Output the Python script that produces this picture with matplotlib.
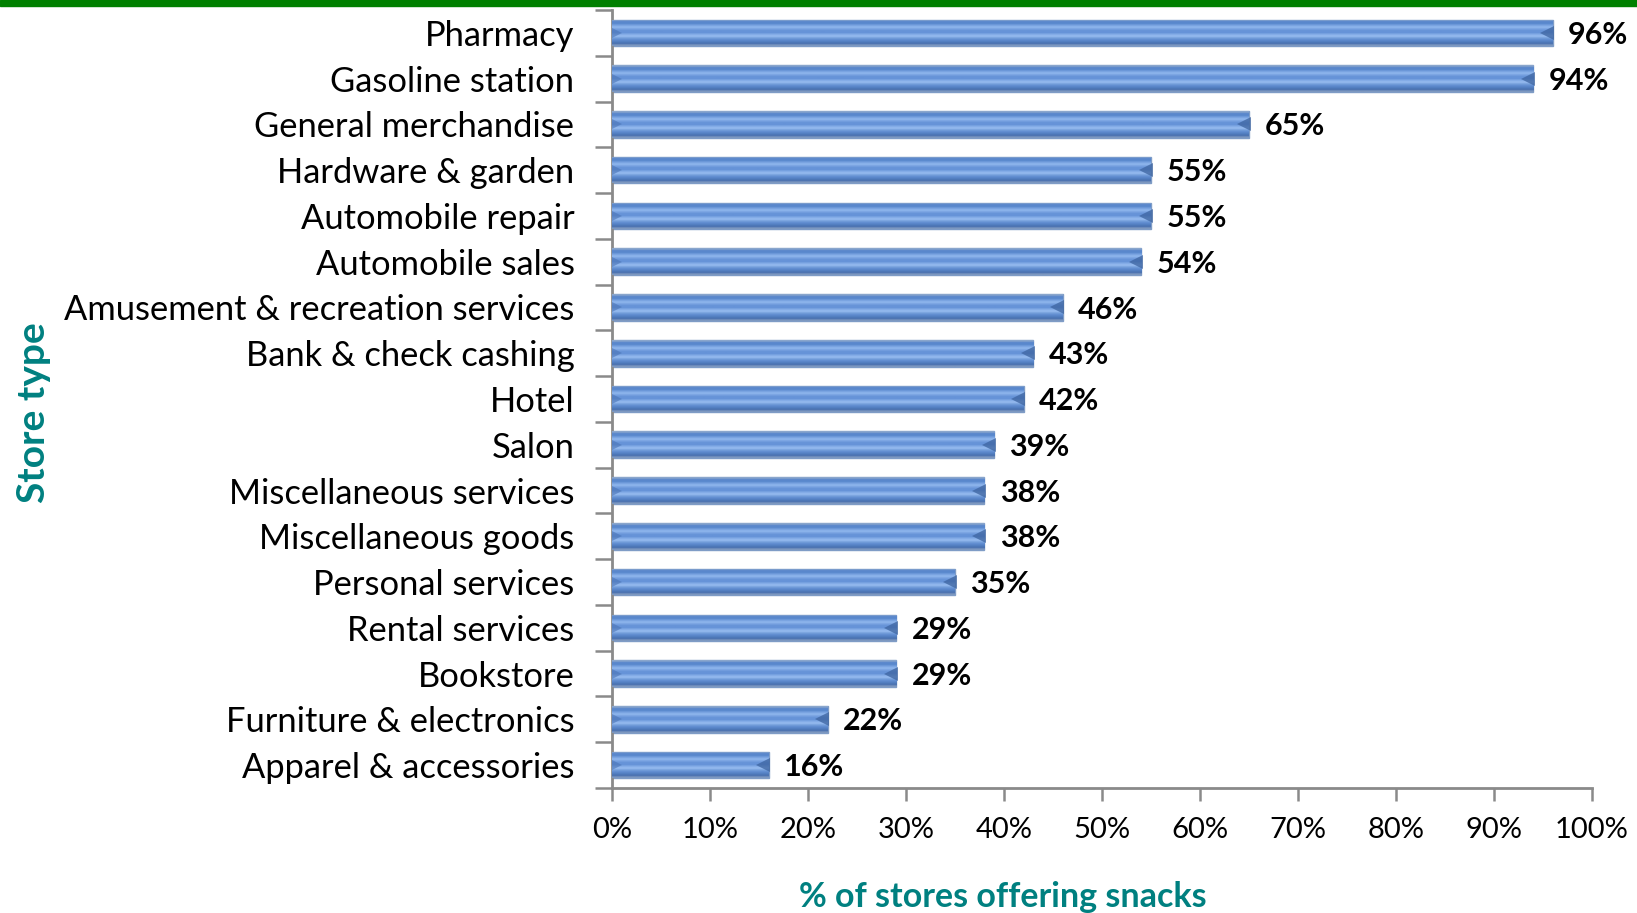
import numpy as np
import matplotlib.pyplot as plt
from matplotlib.colors import to_rgb

store_types = [
    "Pharmacy", "Gasoline station", "General merchandise", "Hardware & garden",
    "Automobile repair", "Automobile sales", "Amusement & recreation services",
    "Bank & check cashing", "Hotel", "Salon", "Miscellaneous services",
    "Miscellaneous goods", "Personal services", "Rental services", "Bookstore",
    "Furniture & electronics", "Apparel & accessories",
]
pct_offering = [96, 94, 65, 55, 55, 54, 46, 43, 42, 39, 38, 38, 35, 29, 29, 22, 16]
x_ticks = [0, 10, 20, 30, 40, 50, 60, 70, 80, 90, 100]

teal = "#008080"
axis_gray = "#8a8a8a"

plt.rcParams["font.family"] = ["Lato", "DejaVu Sans"]

fig = plt.figure(figsize=(16.37, 9.13), dpi=100)
ax = fig.add_axes([612 / 1637, 1 - 788 / 913, 980 / 1637, 778 / 913])

# green rule along the top edge
fig.patches.append(plt.Rectangle((0, 1 - 6 / 913), 1, 6 / 913, transform=fig.transFigure,
                                 color="#008000", zorder=10))

ypos = np.arange(len(store_types))
bar_h = 0.58

# vertical shading inside each bar (top -> bottom)
stops = ["#8aa6cc", "#5886cc", "#5b8ace", "#78a2e0", "#90b7ee", "#78a2e0", "#6693d8",
         "#6693d8", "#82abe6", "#97bcf0", "#76a0dc", "#608cd0", "#5480c2", "#4870b0", "#7d98c0"]
shade = np.array([to_rgb(c) for c in stops])[:, None, :]

bars = ax.barh(ypos, pct_offering, height=bar_h, color="#6a96d8",
               edgecolor="#7f9cc6", linewidth=1.0, zorder=2)
for bar, v, y in zip(bars, pct_offering, ypos):
    im = ax.imshow(shade, extent=(0, v, y + bar_h / 2, y - bar_h / 2),
                   aspect="auto", interpolation="bilinear", zorder=3)
    im.set_clip_path(bar)
    # bevelled ends
    ax.plot(v - 0.55, y, marker="<", markersize=10, color="#3d64a0", alpha=0.75,
            markeredgewidth=0, zorder=4)
    ax.plot(0.45, y, marker=">", markersize=9, color="#4b74b5", alpha=0.6,
            markeredgewidth=0, zorder=4)
    ax.annotate(f"{v}%", (v, y), xytext=(11, -1.5), textcoords="offset points",
                ha="left", va="center", fontsize=22, fontweight="bold", color="black")

ax.set_xlim(0, 100)
ax.set_ylim(len(store_types) - 0.5, -0.5)
ax.set_xticks(x_ticks)
ax.set_xticklabels([f"{t}%" for t in x_ticks], fontsize=21)
ax.set_yticks(ypos)
ax.set_yticklabels(store_types, fontsize=24.8)
ax.set_yticks(np.arange(len(store_types) + 1) - 0.5, minor=True)

ax.tick_params(axis="y", which="major", length=0, pad=27)
ax.tick_params(axis="y", which="minor", length=12, width=1.8, color=axis_gray, direction="out")
ax.tick_params(axis="x", length=9, width=1.8, color=axis_gray, direction="out", pad=12)

for side in ("top", "right"):
    ax.spines[side].set_visible(False)
for side in ("left", "bottom"):
    ax.spines[side].set_color(axis_gray)
    ax.spines[side].set_linewidth(2)

fig.text(1003 / 1637, 1 - 897 / 913, "% of stores offering snacks", ha="center", va="center",
         fontsize=24.5, fontweight="bold", color=teal)
fig.text(34 / 1637, 1 - 413 / 913, "Store type", ha="center", va="center", rotation=90,
         fontsize=28, fontweight="bold", color=teal)

fig.savefig("out.png", dpi=100, facecolor="white")
